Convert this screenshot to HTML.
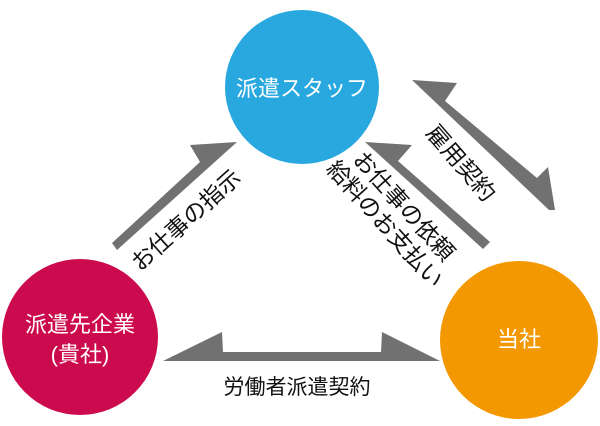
<!DOCTYPE html>
<html><head><meta charset="utf-8"><style>
body{margin:0;background:#fff}
svg{display:block}
text{font-family:"Liberation Sans","Noto Sans CJK JP",sans-serif}
</style></head><body>
<svg width="600" height="426" viewBox="0 0 600 426" xmlns="http://www.w3.org/2000/svg">
<circle cx="302" cy="87" r="77" fill="#29a8e0"/>
<circle cx="80" cy="337" r="78" fill="#cc0a4e"/>
<circle cx="519" cy="340" r="79" fill="#f39800"/>
<g fill="#717171">
<polygon points="112,243 200,162 190,145 237,142 117,250"/>
<polygon points="365,142 412,145 398,161 490,242 483,249"/>
<polygon points="412,80 457,83 445,101 537,178 548,167 555,210 549,210"/>
<polygon points="163,361 222,332 223,352 381,352 382,332 440,361"/>
</g>
<g fill="#fff" font-size="22" text-anchor="middle">
<text x="302" y="96">派遣スタッフ</text>
<text x="80" y="332">派遣先企業</text>
<text x="80" y="362">(貴社)</text>
<text x="519" y="347">当社</text>
</g>
<g fill="#111" font-size="23" text-anchor="middle">
<text font-size="21" x="297" y="394">労働者派遣契約</text>
<text transform="translate(186,220) rotate(-42)" x="0" y="8">お仕事の指示</text>
<text transform="translate(461,163) rotate(49)" x="0" y="8">雇用契約</text>
<text transform="translate(404,206) rotate(48)" x="0" y="8">お仕事の依頼</text>
<text transform="translate(385,224) rotate(48)" x="0" y="8">給料のお支払い</text>
</g>
</svg>
</body></html>
